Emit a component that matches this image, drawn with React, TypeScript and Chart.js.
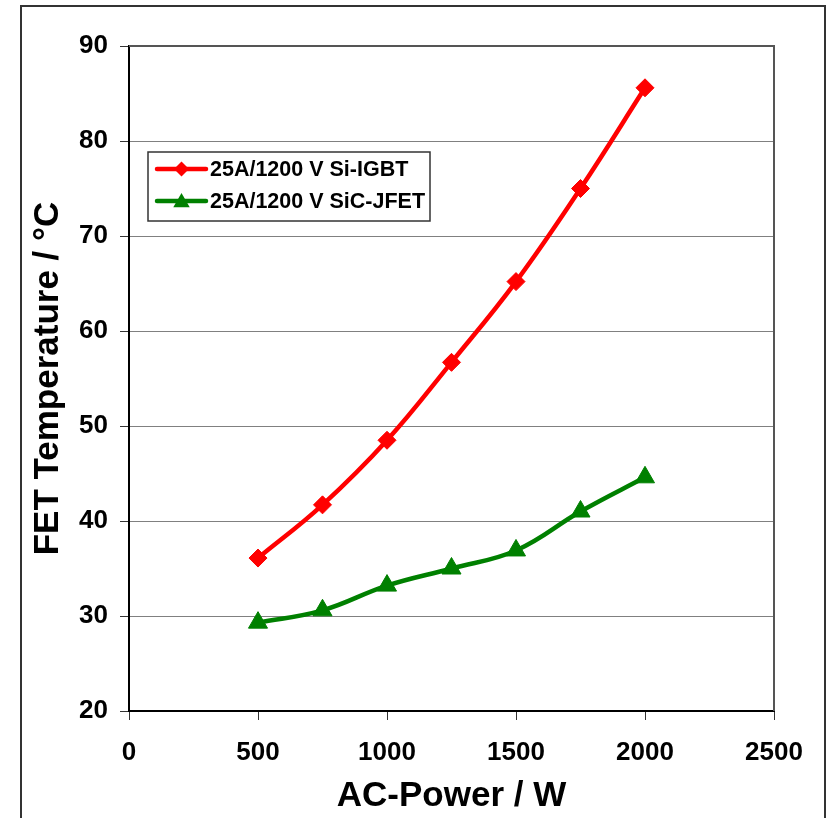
import React, { useEffect, useRef } from 'react';
import { Chart, registerables } from 'chart.js';

Chart.register(...registerables);

// ---- data ----
const powerW = [500, 750, 1000, 1250, 1500, 1750, 2000];
const igbtTemp = [36.1, 41.7, 48.5, 56.7, 65.2, 75.0, 85.6];
const jfetTemp = [29.3, 30.6, 33.2, 35.0, 36.9, 41.0, 44.6];
const seriesLabels = ['25A/1200 V Si-IGBT', '25A/1200 V SiC-JFET'];
const xTitle = 'AC-Power / W';
const yTitle = 'FET Temperature / °C';
const xRange = [0, 2500];
const xStep = 500;
const yRange = [20, 90];
const yStep = 10;

const FONT = '"Liberation Sans", Arial, Helvetica, sans-serif';
const W = 827;
const H = 818;

const framePlugin = {
  id: 'framePlugin',
  beforeDraw(chart: any) {
    const ctx = chart.ctx;
    ctx.save();
    ctx.fillStyle = '#ffffff';
    ctx.fillRect(0, 0, chart.width, chart.height);
    ctx.strokeStyle = '#333333';
    ctx.lineWidth = 2;
    ctx.strokeRect(21, 6, 804, chart.height + 20);
    ctx.restore();
  },
  beforeDatasetsDraw(chart: any) {
    const { ctx, chartArea } = chart;
    ctx.save();
    ctx.strokeStyle = '#555555';
    ctx.lineWidth = 2;
    ctx.beginPath();
    ctx.moveTo(chartArea.left, chartArea.top);
    ctx.lineTo(chartArea.right, chartArea.top);
    ctx.lineTo(chartArea.right, chartArea.bottom);
    ctx.stroke();
    ctx.restore();
  },
};

function drawMarker(ctx: CanvasRenderingContext2D, style: string, x: number, y: number, r: number, color: string) {
  ctx.save();
  ctx.fillStyle = color;
  ctx.beginPath();
  if (style === 'rectRot') {
    ctx.moveTo(x, y - r);
    ctx.lineTo(x + r, y);
    ctx.lineTo(x, y + r);
    ctx.lineTo(x - r, y);
  } else {
    ctx.moveTo(x, y - r);
    ctx.lineTo(x + r * 0.866, y + r * 0.5);
    ctx.lineTo(x - r * 0.866, y + r * 0.5);
  }
  ctx.closePath();
  ctx.fill();
  ctx.restore();
}

const legendPlugin = {
  id: 'boxLegend',
  afterDraw(chart: any) {
    const { ctx } = chart;
    const bx = 148, by = 152, bw = 282, bh = 69;
    ctx.save();
    ctx.fillStyle = '#ffffff';
    ctx.fillRect(bx, by, bw, bh);
    ctx.strokeStyle = '#333333';
    ctx.lineWidth = 1.5;
    ctx.strokeRect(bx, by, bw, bh);
    const rows = [169, 201];
    chart.data.datasets.forEach((ds: any, i: number) => {
      const y = rows[i];
      ctx.strokeStyle = ds.borderColor;
      ctx.lineWidth = 4.5;
      ctx.lineCap = 'round';
      ctx.beginPath();
      ctx.moveTo(157, y);
      ctx.lineTo(206, y);
      ctx.stroke();
      const tri = ds.pointStyle === 'triangle';
      drawMarker(ctx, ds.pointStyle, 181.5, y + (tri ? 1.5 : 0), tri ? 9.5 : 7.5, ds.pointBackgroundColor);
      ctx.fillStyle = '#000000';
      ctx.font = `bold 21.5px ${FONT}`;
      ctx.textBaseline = 'middle';
      ctx.textAlign = 'left';
      ctx.fillText(ds.label, 210, y + 1);
    });
    ctx.restore();
  },
};

export default function App() {
  const ref = useRef<HTMLCanvasElement | null>(null);

  useEffect(() => {
    document.body.style.margin = '0';
    document.documentElement.style.overflow = 'hidden';
    const canvas = ref.current;
    if (!canvas) return;
    const chart = new Chart(canvas, {
      type: 'line',
      data: {
        datasets: [
          {
            label: seriesLabels[0],
            data: powerW.map((x, i) => ({ x, y: igbtTemp[i] })),
            borderColor: '#ff0000',
            backgroundColor: '#ff0000',
            pointBackgroundColor: '#ff0000',
            pointBorderColor: '#ff0000',
            pointStyle: 'rectRot',
            pointRadius: 9,
            pointBorderWidth: 1,
            borderWidth: 4.5,
            tension: 0.4,
            fill: false,
          },
          {
            label: seriesLabels[1],
            data: powerW.map((x, i) => ({ x, y: jfetTemp[i] })),
            borderColor: '#008000',
            backgroundColor: '#008000',
            pointBackgroundColor: '#008000',
            pointBorderColor: '#008000',
            pointStyle: 'triangle',
            pointRadius: 11,
            pointBorderWidth: 1,
            borderWidth: 4.5,
            tension: 0.4,
            fill: false,
          },
        ],
      },
      options: {
        responsive: false,
        animation: false,
        devicePixelRatio: 1,
        layout: { padding: { left: 0, top: 46, right: 53, bottom: 0 } },
        plugins: {
          legend: { display: false },
          tooltip: { enabled: false },
        },
        scales: {
          x: {
            type: 'linear',
            min: xRange[0],
            max: xRange[1],
            afterFit: (s: any) => { s.height = 107; },
            ticks: {
              stepSize: xStep,
              color: '#000000',
              font: { family: FONT, size: 26, weight: 'bold' },
              padding: 17,
              maxRotation: 0,
              callback: (v: any) => String(v),
            },
            grid: { drawOnChartArea: false, drawTicks: true, tickLength: 9, color: '#333333', tickColor: '#333333' },
            border: { display: true, color: '#000000', width: 2 },
            title: {
              display: true,
              text: xTitle,
              color: '#000000',
              font: { family: FONT, size: 35, weight: 'bold', lineHeight: 1 },
              padding: { top: 0, bottom: 4.5 },
            },
          },
          y: {
            type: 'linear',
            min: yRange[0],
            max: yRange[1],
            afterFit: (s: any) => { s.width = 129; },
            ticks: {
              stepSize: yStep,
              color: '#000000',
              font: { family: FONT, size: 26, weight: 'bold' },
              padding: 12,
              callback: (v: any) => String(v),
            },
            grid: { color: '#808080', lineWidth: 1, tickLength: 9, tickColor: '#333333' },
            border: { display: true, color: '#000000', width: 2 },
            title: {
              display: true,
              text: yTitle,
              color: '#000000',
              font: { family: FONT, size: 35, weight: 'bold', lineHeight: 1 },
              padding: { top: 31, bottom: 0 },
            },
          },
        },
      },
      plugins: [framePlugin, legendPlugin],
    } as any);
    return () => chart.destroy();
  }, []);

  return (
    <canvas
      ref={ref}
      width={W}
      height={H}
      style={{ display: 'block', width: W + 'px', height: H + 'px' }}
    />
  );
}
